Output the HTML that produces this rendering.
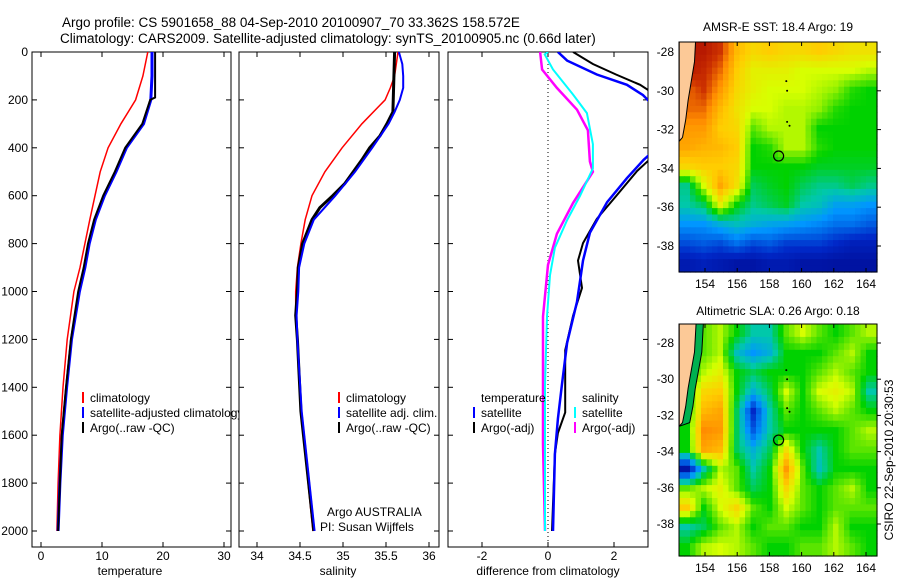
<!DOCTYPE html>
<html><head><meta charset="utf-8"><style>
body{margin:0;background:#fff;}
svg{display:block;font-family:"Liberation Sans",Arial,sans-serif;}
text{fill:#000;}
</style></head><body>
<svg id="fig" width="900" height="580" viewBox="0 0 900 580">
<text x="62" y="27" font-size="13.5">Argo profile: CS 5901658_88 04-Sep-2010 20100907_70 33.362S 158.572E</text>
<text x="60" y="43" font-size="13.5">Climatology: CARS2009. Satellite-adjusted climatology: synTS_20100905.nc (0.66d later)</text>
<g id="g"></g>
</svg>
<script>
// ---------- data ----------
const depthTicks=[0,200,400,600,800,1000,1200,1400,1600,1800,2000];
const tempTicks=[0,10,20,30];
const salTicks=[34,34.5,35,35.5,36];
const diffTicks=[-2,0,2];
const lonTicks=[154,156,158,160,162,164];
const latTicks=[-28,-30,-32,-34,-36,-38];

const tDepth=[0,100,200,300,400,500,600,700,800,900,1000,1200,1400,1600,1800,2000];
const tClim=[17.5,16.7,15.5,13.1,11.0,9.7,8.85,8.0,7.2,6.4,5.4,4.3,3.6,3.1,2.8,2.6];
const tArgoDepth=[0,190,200,300,400,500,600,700,800,900,1000,1200,1400,1600,1800,2000];
const tArgo=[18.7,18.7,17.9,16.6,13.8,12.1,10.2,8.7,7.7,7.0,6.1,4.9,4.1,3.4,3.1,2.8];
const tSat=[18.2,18.2,18.0,16.8,14.0,12.3,10.4,8.9,7.9,7.2,6.3,5.0,4.2,3.5,3.1,2.8];

const sDepth=[0,100,150,200,300,400,500,600,700,800,900,1000,1100,1200,1500,2000];
const sClim=[35.64,35.6,35.55,35.49,35.22,34.99,34.79,34.64,34.56,34.51,34.47,34.45,34.45,34.47,34.51,34.65];
const sArgoDepth=[0,250,300,350,400,450,500,550,600,650,700,800,900,1000,1100,1200,1500,2000];
const sArgo=[35.6,35.58,35.51,35.43,35.31,35.22,35.12,35.02,34.88,34.73,34.64,34.53,34.48,34.47,34.45,34.47,34.51,34.66];
const sSatDepth=[0,50,100,150,200,250,300,400,500,600,700,800,900,1000,1100,1200,1500,2000];
const sSat=[35.65,35.69,35.7,35.7,35.66,35.6,35.53,35.34,35.14,34.91,34.66,34.55,34.49,34.48,34.46,34.47,34.52,34.67];

const dTSatDepth=[0,36,94,137,180,238,300,400,450,527,627,755,871,1043,1215,1390,1532,1678,2000];
const dTSat=[0.3,0.58,1.48,2.39,2.88,3.3,3.5,3.3,2.9,2.39,1.79,1.27,1.06,0.88,0.58,0.42,0.3,0.21,0.15];
const dTArgoDepth=[0,50,94,137,165,250,350,446,497,597,697,798,871,985,1101,1245,1505,1591,1678,2000];
const dTArgo=[0.76,1.36,2.06,2.79,3.1,3.5,3.5,3.1,2.7,2.09,1.48,1.06,0.91,1.03,0.76,0.52,0.52,0.3,0.21,0.12];
const dSSatDepth=[0,10,73,178,255,385,486,601,702,817,932,1105,1393,2000];
const dSSat=[0,-0.1,0.15,0.76,1.18,1.36,1.36,0.97,0.58,0.21,0.06,-0.03,-0.09,-0.09];
const dSArgoDepth=[0,73,150,241,327,457,500,630,759,889,1105,1637,2000];
const dSArgo=[-0.24,-0.18,0.27,0.88,1.21,1.27,1.36,0.76,0.27,0,-0.15,-0.15,-0.09];

// SST map, colormap fraction (0 dark blue .. 1 dark red)
const sstGrid=[
[0.95,0.95,0.9,0.75,0.7,0.72,0.7,0.7,0.72,0.7,0.68,0.68],
[0.95,0.92,0.85,0.72,0.65,0.65,0.65,0.62,0.62,0.62,0.62,0.6],
[0.85,0.9,0.8,0.7,0.65,0.62,0.62,0.62,0.6,0.58,0.52,0.5],
[0.85,0.85,0.75,0.68,0.62,0.62,0.6,0.6,0.58,0.52,0.5,0.5],
[0.8,0.8,0.72,0.7,0.55,0.6,0.6,0.6,0.5,0.5,0.5,0.5],
[0.78,0.76,0.75,0.72,0.5,0.52,0.6,0.6,0.52,0.5,0.5,0.5],
[0.7,0.72,0.72,0.7,0.5,0.5,0.5,0.5,0.48,0.48,0.48,0.48],
[0.42,0.62,0.78,0.68,0.45,0.48,0.5,0.45,0.42,0.42,0.45,0.42],
[0.4,0.45,0.65,0.5,0.42,0.45,0.48,0.4,0.38,0.32,0.32,0.3],
[0.3,0.3,0.35,0.38,0.35,0.33,0.32,0.3,0.28,0.25,0.25,0.22],
[0.2,0.22,0.2,0.25,0.2,0.22,0.18,0.18,0.18,0.15,0.12,0.12],
[0.1,0.12,0.1,0.08,0.08,0.1,0.1,0.08,0.08,0.07,0.07,0.07]];
const slaGrid=[
[0.5,0.55,0.6,0.5,0.4,0.4,0.55,0.62,0.55,0.5,0.55,0.6],
[0.5,0.55,0.6,0.38,0.3,0.35,0.5,0.5,0.5,0.55,0.6,0.5],
[0.5,0.6,0.65,0.5,0.45,0.5,0.5,0.5,0.55,0.6,0.55,0.5],
[0.5,0.7,0.72,0.5,0.35,0.45,0.62,0.5,0.62,0.65,0.6,0.4],
[0.5,0.75,0.78,0.45,0.15,0.4,0.55,0.5,0.55,0.6,0.55,0.5],
[0.5,0.82,0.8,0.45,0.22,0.4,0.5,0.5,0.5,0.5,0.55,0.6],
[0.5,0.78,0.75,0.45,0.35,0.45,0.68,0.5,0.4,0.5,0.55,0.55],
[0.08,0.4,0.6,0.55,0.4,0.5,0.8,0.55,0.38,0.5,0.5,0.5],
[0.55,0.6,0.65,0.55,0.45,0.5,0.7,0.55,0.5,0.55,0.6,0.5],
[0.72,0.5,0.62,0.7,0.55,0.5,0.62,0.55,0.5,0.55,0.55,0.55],
[0.4,0.45,0.55,0.6,0.5,0.55,0.55,0.5,0.5,0.6,0.5,0.5],
[0.5,0.6,0.62,0.6,0.55,0.5,0.5,0.55,0.55,0.6,0.55,0.5]];
const landLon=[152.4,153.45,153.35,153.15,152.95,152.8,152.6,152.4];
const landLat=[-26.9,-26.9,-28.5,-29.5,-30.5,-31.5,-32.4,-32.6];
const argoLon=158.572, argoLat=-33.362;

// ---------- helpers ----------
const NS="http://www.w3.org/2000/svg";
const G=document.getElementById('g');
function mk(tag,attrs,parent){const e=document.createElementNS(NS,tag);for(const k in attrs)e.setAttribute(k,attrs[k]);(parent||G).appendChild(e);return e;}
const yD=d=>52+d*0.2395;
const BOT=547;

function panel(name,x0,x1,xs,ticks,fmt,label,labelX){
  const g=mk('g',{});
  
  
  mk('rect',{x:x0,y:52,width:x1-x0,height:BOT-52,fill:'#fff',stroke:'#000','stroke-width':1},g);
  ticks.forEach(t=>{const x=xs(t);
    mk('line',{x1:x,y1:BOT,x2:x,y2:BOT-5,stroke:'#000'},g);
    mk('line',{x1:x,y1:52,x2:x,y2:57,stroke:'#000'},g);
    const tx=mk('text',{x:x,y:BOT+13,'font-size':12,'text-anchor':'middle'},g);tx.textContent=fmt(t);
    
    
  });
  depthTicks.forEach(d=>{const y=yD(d);
    mk('line',{x1:x0,y1:y,x2:x0+5,y2:y,stroke:'#000'},g);
    mk('line',{x1:x1,y1:y,x2:x1-5,y2:y,stroke:'#000'},g);});
  const lt=mk('text',{x:labelX,y:575,'font-size':12,'text-anchor':'middle'},g);lt.textContent=label;
  
  
  return g;
}
function line(g,xs,vals,depths,color,w,name){
  const d=vals.map((v,i)=>(i?'L':'M')+xs(v).toFixed(1)+','+yD(depths[i]).toFixed(1)).join('');
  const p=mk('path',{d:d,fill:'none',stroke:color,'stroke-width':w},g);
  
  
}
function legend(g,x,y,items){
  items.forEach((it,i)=>{
    if(it.c) mk('rect',{x:x,y:y+i*15-10,width:2,height:11,fill:it.c},g);
    const t=mk('text',{x:x+8,y:y+i*15,'font-size':12},g);t.textContent=it.t;
    
    
  });
}

depthTicks.forEach(d=>{const t=mk('text',{x:28,y:yD(d)+4,'font-size':12,'text-anchor':'end'});t.textContent=d;
  
  });

// panel 1 temperature
const xT=v=>41+6.1*v;
const p1=panel('temperature-panel',32,231,xT,tempTicks,v=>v,'temperature',130);
const c1=mk('clipPath',{id:'c1'});mk('rect',{x:32,y:52,width:199,height:495},c1);
const l1=mk('g',{'clip-path':'url(#c1)'},p1);
line(l1,xT,tClim,tDepth,'#f00',1.5,'temp-climatology-line');
line(l1,xT,tSat,tDepth,'#00f',3,'temp-satellite-line');
line(l1,xT,tArgo,tArgoDepth,'#000',2,'temp-argo-line');
legend(p1,82,402,[{c:'#f00',t:'climatology'},{c:'#00f',t:'satellite-adjusted climatology'},{c:'#000',t:'Argo(..raw -QC)'}]);

// panel 2 salinity
const xS=v=>257+86*(v-34);
const p2=panel('salinity-panel',239,439,xS,salTicks,v=>v,'salinity',338);
line(p2,xS,sClim,sDepth,'#f00',1.5,'sal-climatology-line');
line(p2,xS,sArgo,sArgoDepth,'#000',3,'sal-argo-line');
line(p2,xS,sSat,sSatDepth,'#00f',2,'sal-satellite-line');
legend(p2,338,402,[{c:'#f00',t:'climatology'},{c:'#00f',t:'satellite adj. clim.'},{c:'#000',t:'Argo(..raw -QC)'}]);
[['Argo AUSTRALIA',327,516],['PI: Susan Wijffels',320,531]].forEach(a=>{const t=mk('text',{x:a[1],y:a[2],'font-size':12},p2);t.textContent=a[0];
  
  });

// panel 3 difference
const xF=v=>548+33*v;
const p3=panel('difference-panel',448,648,xF,diffTicks,v=>v,'difference from climatology',548);
mk('line',{x1:548,y1:52,x2:548,y2:BOT,stroke:'#000','stroke-dasharray':'1,3'},p3);
const c3=mk('clipPath',{id:'c3'});mk('rect',{x:448,y:52,width:200,height:495},c3);
const l3=mk('g',{'clip-path':'url(#c3)'},p3);
line(l3,xF,dTArgo,dTArgoDepth,'#000',2,'temp-diff-argo-line');
line(l3,xF,dTSat,dTSatDepth,'#00f',2.5,'temp-diff-satellite-line');
line(l3,xF,dSArgo,dSArgoDepth,'#f0f',2.5,'sal-diff-argo-line');
line(l3,xF,dSSat,dSSatDepth,'#0ff',2,'sal-diff-satellite-line');
legend(p3,473,402,[{c:null,t:'temperature'},{c:'#00f',t:'satellite'},{c:'#000',t:'Argo(-adj)'}]);
legend(p3,574,402,[{c:null,t:'salinity'},{c:'#0ff',t:'satellite'},{c:'#f0f',t:'Argo(-adj)'}]);

// maps
const cmStops=[[0,0,0,128],[0.15,0,40,200],[0.3,0,150,255],[0.4,0,200,170],[0.5,0,210,0],[0.62,215,255,0],[0.72,255,205,0],[0.82,255,140,0],[0.9,205,50,0],[1,160,0,0]];
function cmap(v){v=Math.max(0,Math.min(1,v));
  for(let i=1;i<cmStops.length;i++){if(v<=cmStops[i][0]){const a=cmStops[i-1],b=cmStops[i],f=(v-a[0])/(b[0]-a[0]);
    return `rgb(${Math.round(a[1]+f*(b[1]-a[1]))},${Math.round(a[2]+f*(b[2]-a[2]))},${Math.round(a[3]+f*(b[3]-a[3]))})`;}}
  return 'rgb(160,0,0)';}
function sample(grid,fy,fx){const R=grid.length,C=grid[0].length;
  fy=Math.max(0,Math.min(R-1,fy));fx=Math.max(0,Math.min(C-1,fx));
  const r0=Math.floor(fy),c0=Math.floor(fx),r1=Math.min(R-1,r0+1),c1=Math.min(C-1,c0+1),ty=fy-r0,tx=fx-c0;
  return grid[r0][c0]*(1-ty)*(1-tx)+grid[r0][c1]*(1-ty)*tx+grid[r1][c0]*ty*(1-tx)+grid[r1][c1]*ty*tx;}
function map(name,grid,x0,y0,x1,y1,lonA,latA,pxLon,pxLat,title,titleY,green){
  const g=mk('g',{});
  
  
  const xs=lon=>lonA+(lon-154)*pxLon, ys=lat=>latA+(-28-lat)*pxLat;
  const rows=grid.length, cols=grid[0].length, S=3;
  const cw=(x1-x0)/(cols*S), ch=(y1-y0)/(rows*S);
  for(let r=0;r<rows*S;r++)for(let c=0;c<cols*S;c++){
    const v=sample(grid,(r+0.5)/S-0.5,(c+0.5)/S-0.5);
    const cell=mk('rect',{x:(x0+c*cw).toFixed(1),y:(y0+r*ch).toFixed(1),width:(cw+0.6).toFixed(1),height:(ch+0.6).toFixed(1),fill:cmap(v)},g);
    
    
  }
  const cp=mk('clipPath',{id:'cp'+name});mk('rect',{x:x0,y:y0,width:x1-x0,height:y1-y0},cp);
  const lg=mk('g',{'clip-path':`url(#cp${name})`},g);
  const pts=landLon.map((l,i)=>xs(l).toFixed(1)+','+ys(landLat[i]).toFixed(1)).join(' ');
  if(green){const pts2=landLon.map((l,i)=>xs(l+(i>0&&i<landLon.length-1?0.45:0)).toFixed(1)+','+ys(landLat[i]).toFixed(1)).join(' ');
    mk('polygon',{points:pts2,fill:'#00b050',stroke:'#000','stroke-width':1},lg);}
  const land=mk('polygon',{points:pts,fill:'#fcc997',stroke:'#000','stroke-width':1},lg);
  
  
  [[159.05,-29.5],[159.1,-30.0],[159.1,-31.6],[159.25,-31.8]].forEach(p=>mk('circle',{cx:xs(p[0]),cy:ys(p[1]),r:1,fill:'#000'},lg));
  const m=mk('circle',{cx:xs(argoLon),cy:ys(argoLat),r:5,fill:'none',stroke:'#000','stroke-width':1.2},g);
  
  
  mk('rect',{x:x0,y:y0,width:x1-x0,height:y1-y0,fill:'none',stroke:'#000'},g);
  lonTicks.forEach(l=>{const x=xs(l);mk('line',{x1:x,y1:y1,x2:x,y2:y1-4,stroke:'#000'},g);mk('line',{x1:x,y1:y0,x2:x,y2:y0+4,stroke:'#000'},g);
    const t=mk('text',{x:x,y:y1+16,'font-size':12,'text-anchor':'middle'},g);t.textContent=l;
    
    });
  latTicks.forEach(l=>{const y=ys(l);mk('line',{x1:x1,y1:y,x2:x1+4,y2:y,stroke:'#000'},g);
    const t=mk('text',{x:x0-5,y:y+4,'font-size':12,'text-anchor':'end'},g);t.textContent=l;
    
    });
  const tt=mk('text',{x:(x0+x1)/2,y:titleY,'font-size':12,'text-anchor':'middle'},g);tt.textContent=title;
  
  
}
map('sst-map',sstGrid,679,42,877,272,705,52,16.1,19.4,'AMSR-E SST: 18.4 Argo: 19',31,false);
map('sla-map',slaGrid,679,324,877,556,705,343,16.1,18.1,'Altimetric SLA: 0.26 Argo: 0.18',315,true);
const st=mk('text',{x:0,y:0,'font-size':12,'text-anchor':'middle',transform:'translate(893,460) rotate(-90)'});
st.textContent='CSIRO 22-Sep-2010 20:30:53';


</script>
</body></html>
